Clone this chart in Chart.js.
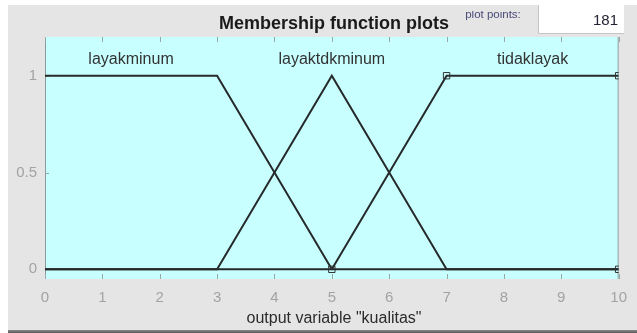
<!DOCTYPE html>
<html>
<head>
<meta charset="utf-8">
<script src="https://cdn.jsdelivr.net/npm/chart.js@4"></script>
<style>
  html, body { margin: 0; padding: 0; background: #ffffff; }
  #wrap { width: 637px; height: 333px; position: relative; }
</style>
</head>
<body>
<div id="wrap"><canvas id="mfChart" width="637" height="333"></canvas></div>
<script>
// membership functions of output variable "kualitas"
const mfNames = ['layakminum', 'layaktdkminum', 'tidaklayak'];
const mfX = [
    [0, 3, 5, 10],
    [0, 3, 5, 7, 10],
    [0, 5, 7, 10]
];
const mfY = [
    [1, 1, 0, 0],
    [0, 0, 1, 0, 0],
    [0, 0, 1, 1]
];
// squares on the selected function's points
const mfMarks = [
    [0, 0, 0, 1],
    [0, 0, 0, 0, 0],
    [0, 1, 1, 1]
];
const labelX = [1.5, 5, 8.5];
const labelY = 1.09;
const xTicks = [0, 1, 2, 3, 4, 5, 6, 7, 8, 9, 10];
const yTicks = [0, 0.5, 1];
const titleText = 'Membership function plots';
const xTitle = 'output variable "kualitas"';
const plotPoints = '181';

const FONT = '"Liberation Sans", Arial, Helvetica, sans-serif';

const frame = {
    id: 'frame',
    beforeDraw(chart) {
        const ctx = chart.ctx;
        const a = chart.chartArea;
        ctx.save();
        ctx.fillStyle = '#ffffff';
        ctx.fillRect(0, 0, 637, 333);
        ctx.fillStyle = '#e5e5e5';
        ctx.fillRect(8, 5, 629, 325);
        const g = ctx.createLinearGradient(0, 330, 0, 333);
        g.addColorStop(0, '#8a8a8a');
        g.addColorStop(1, '#5a5a5a');
        ctx.fillStyle = g;
        ctx.fillRect(8, 330, 629, 3);
        ctx.fillStyle = '#c8ffff';
        ctx.fillRect(a.left, a.top, a.right - a.left, a.bottom - a.top);

        // plot points box
        ctx.fillStyle = '#ffffff';
        ctx.fillRect(538, 5, 86, 28);
        ctx.strokeStyle = '#c4c4c4';
        ctx.lineWidth = 1;
        ctx.beginPath();
        ctx.moveTo(538.5, 5);
        ctx.lineTo(538.5, 33.5);
        ctx.lineTo(624, 33.5);
        ctx.stroke();
        ctx.restore();
    },
    beforeDatasetsDraw(chart) {
        const ctx = chart.ctx;
        const a = chart.chartArea;
        const xs = chart.scales.x;
        const ys = chart.scales.y;
        ctx.save();
        ctx.strokeStyle = '#8c9a9a';
        ctx.lineWidth = 1;
        ctx.beginPath();
        ctx.moveTo(a.left + 0.5, a.top);
        ctx.lineTo(a.left + 0.5, a.bottom);
        ctx.moveTo(a.right - 0.5, a.top);
        ctx.lineTo(a.right - 0.5, a.bottom);
        ctx.stroke();
        ctx.strokeStyle = '#9aa6a6';
        ctx.beginPath();
        xTicks.forEach(v => {
            const px = Math.round(xs.getPixelForValue(v)) + 0.5;
            ctx.moveTo(px, a.top);
            ctx.lineTo(px, a.top + 5);
            ctx.moveTo(px, a.bottom);
            ctx.lineTo(px, a.bottom - 5);
        });
        yTicks.forEach(v => {
            const py = Math.round(ys.getPixelForValue(v)) + 0.5;
            ctx.moveTo(a.left, py);
            ctx.lineTo(a.left + 4, py);
        });
        ctx.stroke();
        ctx.restore();
    },
    afterDraw(chart) {
        const ctx = chart.ctx;
        const xs = chart.scales.x;
        const ys = chart.scales.y;
        ctx.save();
        ctx.textAlign = 'center';
        ctx.textBaseline = 'alphabetic';
        ctx.fillStyle = '#1a1a1a';
        ctx.font = 'bold 18px ' + FONT;
        ctx.fillText(titleText, 334, 29);

        ctx.font = '16px ' + FONT;
        ctx.fillStyle = '#333333';
        mfNames.forEach((name, i) => {
            ctx.fillText(name, xs.getPixelForValue(labelX[i]), ys.getPixelForValue(labelY) + 6);
        });

        ctx.fillStyle = '#2b2b2b';
        ctx.fillText(xTitle, 334, 323);

        // label squeezed under the top edge, as in the original
        ctx.save();
        ctx.beginPath();
        ctx.rect(440, 11, 97, 20);
        ctx.clip();
        ctx.font = '11.5px ' + FONT;
        ctx.fillStyle = '#4a4a78';
        ctx.fillText('plot points:', 493, 18);
        ctx.restore();

        ctx.font = '15px ' + FONT;
        ctx.textAlign = 'right';
        ctx.fillStyle = '#222233';
        ctx.fillText(plotPoints, 618, 25);
        ctx.restore();
    }
};

const datasets = mfNames.map((name, i) => ({
    label: name,
    data: mfX[i].map((x, j) => ({ x: x, y: mfY[i][j] })),
    borderColor: '#262a2a',
    borderWidth: 2,
    tension: 0,
    fill: false,
    pointStyle: 'rect',
    pointRadius: mfMarks[i].map(m => m ? 4.5 : 0),
    pointBorderColor: '#303535',
    pointBackgroundColor: 'rgba(0,0,0,0)',
    pointBorderWidth: 1
}));

const ctx = document.getElementById('mfChart').getContext('2d');
const mfChart = new Chart(ctx, {
    type: 'line',
    data: { datasets: datasets },
    options: {
        responsive: false,
        animation: false,
        devicePixelRatio: 1,
        layout: { padding: { top: 37, right: 12, left: 0, bottom: 0 } },
        plugins: {
            legend: { display: false },
            tooltip: { enabled: false },
            title: { display: false }
        },
        scales: {
            x: {
                type: 'linear',
                min: 0,
                max: 10,
                afterBuildTicks: s => { s.ticks = xTicks.map(v => ({ value: v })); },
                afterFit: s => { s.height = 54; },
                grid: { display: false, drawTicks: false },
                border: { display: false },
                ticks: {
                    padding: 10,
                    color: '#a3a3a3',
                    font: { family: FONT, size: 15 },
                    maxRotation: 0,
                    autoSkip: false,
                    callback: v => String(v)
                }
            },
            y: {
                type: 'linear',
                min: -0.05,
                max: 1.2,
                afterBuildTicks: s => { s.ticks = yTicks.map(v => ({ value: v })); },
                afterFit: s => { s.width = 45; },
                grid: { display: false, drawTicks: false },
                border: { display: false },
                ticks: {
                    padding: 8,
                    color: '#a3a3a3',
                    font: { family: FONT, size: 15 },
                    autoSkip: false,
                    callback: v => String(v)
                }
            }
        }
    },
    plugins: [frame]
});
</script>
</body>
</html>
